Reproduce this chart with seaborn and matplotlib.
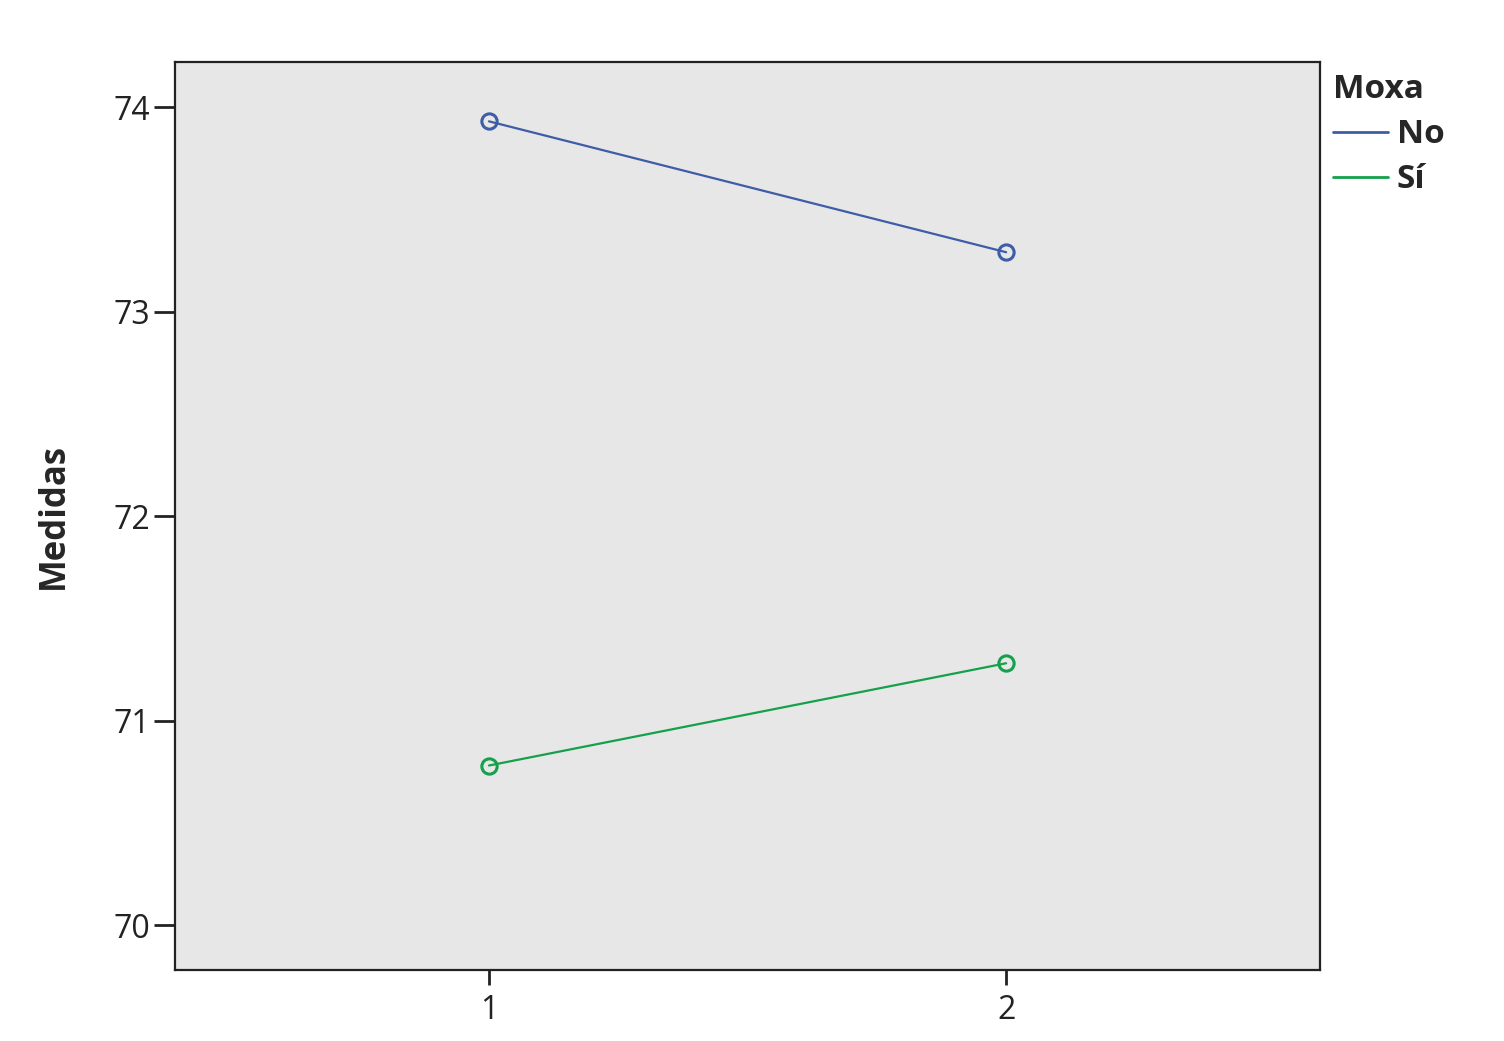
import pandas as pd
import matplotlib
matplotlib.use('Agg')
import matplotlib.pyplot as plt
from matplotlib.lines import Line2D
import seaborn as sns

sns.set_style('white')
plt.rcParams['font.family'] = ['Open Sans', 'DejaVu Sans']

# ---- data ----
momento = [1, 2]
groups = ['No', 'Sí']
no_vals = [73.93, 73.29]
si_vals = [70.78, 71.28]
yticks = [70, 71, 72, 73, 74]
palette = {'No': '#3d5da8', 'Sí': '#15a04c'}

df = pd.DataFrame({
    'Momento': momento * 2,
    'Moxa': ['No'] * 2 + ['Sí'] * 2,
    'Medidas': no_vals + si_vals,
})

fig = plt.figure(figsize=(15.04, 10.41), dpi=100)
ax = fig.add_axes([0.1164, 0.0682, 0.7613, 0.8722])
ax.set_facecolor('#e7e7e7')

sns.lineplot(data=df, x='Momento', y='Medidas', hue='Moxa', palette=palette,
             hue_order=groups, marker='o', markersize=11, lw=1.6, ax=ax, legend=False)
for line, g in zip(ax.lines, groups):
    line.set_markerfacecolor('none')
    line.set_markeredgecolor(palette[g])
    line.set_markeredgewidth(2.2)

ax.set_xlim(0.393, 2.607)
ax.set_ylim(69.78, 74.22)
ax.set_xticks(momento)
ax.set_yticks(yticks)
ax.set_xlabel('')
ax.set_ylabel('Medidas', fontsize=25, fontweight='bold', labelpad=30)
ax.tick_params(axis='both', direction='out', width=2, labelsize=23,
               color='#222222', labelcolor='#222222', bottom=True, left=True)
ax.tick_params(axis='y', length=15, pad=3)
ax.tick_params(axis='x', length=11, pad=6)
for s in ax.spines.values():
    s.set_linewidth(1.6)
    s.set_color('#222222')

handles = [Line2D([0], [0], color=palette[g], lw=2) for g in groups]
leg = fig.legend(handles, groups, title='Moxa', loc='upper left',
                 bbox_to_anchor=(0.871, 0.952), frameon=False, handlelength=1.65,
                 handletextpad=0.25, labelspacing=0.36, borderpad=0.2,
                 prop={'size': 24, 'weight': 'bold'},
                 title_fontproperties={'size': 24, 'weight': 'bold'},
                 alignment='left')

fig.savefig('out.png', dpi=100)
